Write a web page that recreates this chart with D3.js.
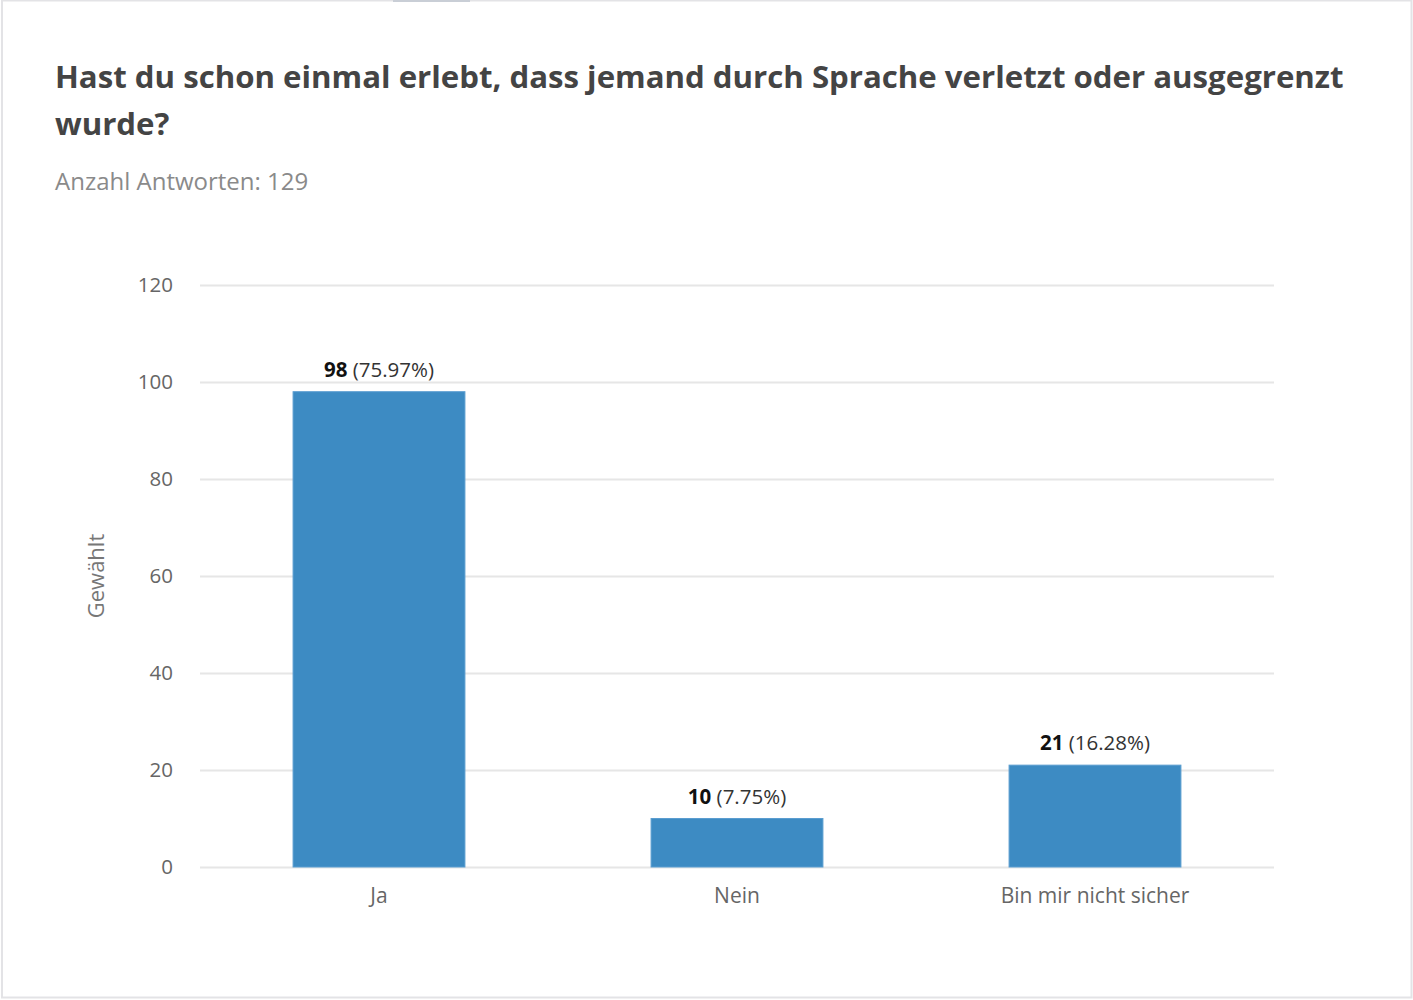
<!DOCTYPE html>
<html>
<head>
<meta charset="utf-8">
<script src="https://cdn.jsdelivr.net/npm/d3@7"></script>
<style>
  body { margin: 0; background: #fff; }
  svg { display: block; font-family: "Open Sans", sans-serif; }
</style>
</head>
<body>
<div id="chart"></div>
<script>
var categories = ['Ja', 'Nein', 'Bin mir nicht sicher'];
var counts = [98, 10, 21];
var percents = ['75.97%', '7.75%', '16.28%'];
var yTicks = [0, 20, 40, 60, 80, 100, 120];
var titleLines = ['Hast du schon einmal erlebt, dass jemand durch Sprache verletzt oder ausgegrenzt', 'wurde?'];
var subtitle = 'Anzahl Antworten: 129';
var yLabel = 'Gewählt';

var width = 1413, height = 1000;
var margin = {top: 285, right: 139, bottom: 133, left: 200};
var innerW = width - margin.left - margin.right;
var innerH = height - margin.top - margin.bottom;

var svg = d3.select('#chart').append('svg')
	.attr('width', width)
	.attr('height', height);

// card frame
svg.append('rect')
	.attr('x', 2).attr('y', 0.5)
	.attr('width', width - 3.5).attr('height', height - 3)
	.attr('fill', '#fff')
	.attr('stroke', '#e3e3e6')
	.attr('stroke-width', 2);
svg.append('line')
	.attr('x1', 393).attr('x2', 470)
	.attr('y1', 1).attr('y2', 1)
	.attr('stroke', '#c9ced6')
	.attr('stroke-width', 2);

// title
svg.append('text')
	.attr('x', 55).attr('y', 88)
	.attr('fill', '#444')
	.attr('font-size', 31.2)
	.attr('font-weight', 700)
	.selectAll('tspan')
	.data(titleLines)
	.enter().append('tspan')
	.attr('x', 55)
	.attr('dy', (d, i) => i ? 47 : 0)
	.text(d => d);

svg.append('text')
	.attr('x', 55).attr('y', 190)
	.attr('fill', '#8a8a8a')
	.attr('font-size', 24)
	.text(subtitle);

var g = svg.append('g').attr('transform', 'translate(' + margin.left + ',' + margin.top + ')');

var x = d3.scaleBand()
	.domain(categories)
	.range([0, innerW])
	.paddingInner(0.52)
	.paddingOuter(0.26);

var y = d3.scaleLinear()
	.domain([0, 120])
	.range([innerH, 0]);

// gridlines + y ticks
var yAxis = g.append('g')
	.attr('class', 'y-axis')
	.call(d3.axisLeft(y).tickValues(yTicks).tickSize(-innerW).tickPadding(27));
yAxis.select('.domain').remove();
yAxis.selectAll('.tick line').attr('stroke', '#e6e6e6').attr('stroke-width', 2);
yAxis.selectAll('.tick text')
	.attr('fill', '#666')
	.attr('font-size', 20.5)
	.attr('font-family', '"Open Sans", sans-serif');

// x labels
var xAxis = g.append('g')
	.attr('class', 'x-axis')
	.attr('transform', 'translate(0,' + innerH + ')')
	.call(d3.axisBottom(x).tickSize(0).tickPadding(21));
xAxis.select('.domain').remove();
xAxis.selectAll('.tick text')
	.attr('fill', '#666')
	.attr('font-size', 21)
	.attr('font-family', '"Open Sans", sans-serif');

svg.append('text')
	.attr('transform', 'translate(104,' + (margin.top + y(60)) + ') rotate(-90)')
	.attr('text-anchor', 'middle')
	.attr('fill', '#777')
	.attr('font-size', 22)
	.text(yLabel);

var data = categories.map((c, i) => ({cat: c, value: counts[i], pct: percents[i]}));

g.selectAll('.bar')
	.data(data)
	.enter().append('rect')
	.attr('class', 'bar')
	.attr('x', d => x(d.cat))
	.attr('y', d => y(d.value))
	.attr('width', x.bandwidth())
	.attr('height', d => innerH - y(d.value))
	.attr('fill', '#3d8bc3')
	.attr('stroke', '#5a9dd0')
	.attr('stroke-width', 1);

var labels = g.selectAll('.label')
	.data(data)
	.enter().append('text')
	.attr('class', 'label')
	.attr('x', d => x(d.cat) + x.bandwidth() / 2)
	.attr('y', d => y(d.value) - 15)
	.attr('text-anchor', 'middle')
	.attr('font-size', 20.5)
	.attr('fill', '#333');
labels.append('tspan')
	.attr('font-weight', 700)
	.attr('fill', '#111')
	.text(d => d.value);
labels.append('tspan')
	.text(d => ' (' + d.pct + ')');
</script>
</body>
</html>
